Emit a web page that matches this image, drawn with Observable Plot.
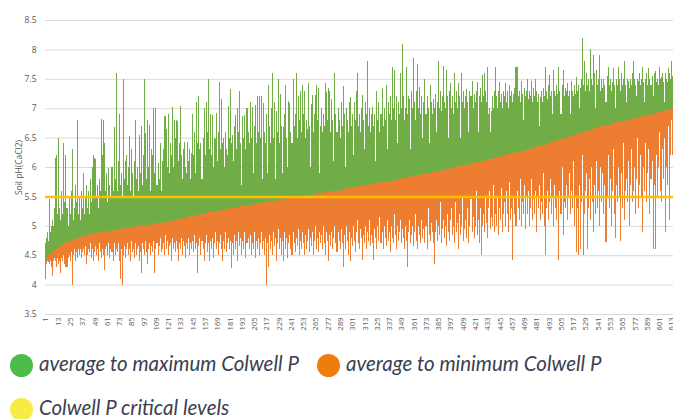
<!DOCTYPE html>
<html>
<head>
<meta charset="utf-8">
<script src="https://cdn.jsdelivr.net/npm/d3@7"></script>
<script src="https://cdn.jsdelivr.net/npm/@observablehq/plot@0.6"></script>
<style>
  html, body { margin: 0; padding: 0; background: #fff; }
  #wrap { position: relative; width: 673px; height: 419px; overflow: hidden; }
  #chart { position: absolute; left: 0; top: 0; }
  .lg-dot { position: absolute; width: 23px; height: 23px; border-radius: 50%; }
  .lg-txt { position: absolute; font-family: Lato, "Open Sans", sans-serif; font-style: italic; font-weight: 400;
            font-size: 20.5px; color: #3b4150; white-space: nowrap; line-height: 23px; }
</style>
</head>
<body>
<div id="wrap">
  <div id="chart"></div>
</div>
<script>
// Average pH per site (sorted ascending)
const avg = [
4.40,4.43,4.45,4.48,4.50,4.52,4.53,4.55,4.56,4.58,
4.59,4.60,4.61,4.63,4.64,4.65,4.66,4.67,4.69,4.70,
4.71,4.72,4.72,4.73,4.74,4.75,4.76,
4.76,4.77,4.78,4.78,4.79,4.80,4.80,4.81,
4.81,4.82,4.82,4.83,4.83,4.84,4.84,4.85,4.85,4.86,
4.86,4.86,4.87,4.87,4.87,4.88,4.88,4.88,4.88,4.89,4.89,4.89,4.90,4.90,4.90,
4.90,4.91,4.91,4.91,4.92,4.92,4.92,4.93,4.93,4.93,4.94,4.94,4.94,4.95,4.95,
4.95,4.95,4.96,4.96,4.96,4.96,4.97,4.97,4.97,4.97,4.98,4.98,4.98,4.98,4.99,4.99,4.99,4.99,
5.00,5.00,5.00,5.01,5.01,5.01,5.01,5.02,5.02,5.02,5.02,5.03,5.03,5.03,5.03,5.04,5.04,
5.04,5.04,5.05,5.05,5.05,5.06,5.06,5.06,5.07,5.07,5.07,5.08,5.08,5.08,5.09,
5.09,5.10,5.10,5.10,5.11,5.11,5.12,5.12,5.12,5.13,5.13,5.14,5.14,5.14,5.15,
5.15,5.16,5.16,5.17,5.17,5.17,5.18,5.18,5.19,5.19,5.19,5.20,
5.20,5.21,5.21,5.21,5.22,5.22,5.22,5.23,5.23,5.23,5.24,5.24,5.24,5.25,5.25,5.25,5.26,5.26,
5.26,5.27,5.27,5.27,5.28,5.28,5.28,5.29,5.29,5.29,5.30,5.30,5.30,5.30,5.31,5.31,5.31,5.32,5.32,5.32,
5.33,5.33,5.33,5.33,5.34,5.34,5.34,5.35,5.35,5.35,5.36,5.36,5.36,5.36,5.37,5.37,5.37,5.38,5.38,5.38,
5.39,5.39,5.39,5.39,5.40,5.40,5.40,5.41,5.41,5.41,5.42,5.42,5.42,5.42,5.43,5.43,5.43,5.44,5.44,5.44,
5.45,5.45,5.45,5.45,5.46,5.46,5.46,5.47,5.47,5.47,5.48,5.48,5.48,5.48,5.49,5.49,5.49,5.50,5.50,5.50,
5.50,5.51,5.51,5.51,5.52,5.52,5.52,5.52,5.53,5.53,5.53,5.53,5.54,5.54,5.54,5.54,5.55,5.55,5.55,5.55,
5.56,5.56,5.56,5.57,5.57,5.57,5.58,5.58,5.58,5.58,5.59,5.59,5.59,5.60,5.60,5.60,5.60,5.61,5.61,5.61,
5.62,5.62,5.62,5.63,5.63,5.63,5.64,5.64,5.64,5.65,
5.65,5.65,5.66,5.66,5.66,5.67,5.67,5.67,5.68,5.68,5.68,5.68,5.69,5.69,5.69,5.70,5.70,5.70,5.71,5.71,
5.71,5.72,5.72,5.72,5.73,5.73,5.73,5.74,5.74,5.74,5.74,5.75,5.75,5.75,5.76,5.76,5.76,5.77,5.77,5.77,
5.78,5.78,5.78,5.79,5.79,5.79,5.80,5.80,5.80,5.81,5.81,5.81,5.82,5.82,5.82,5.83,5.83,5.83,5.84,5.84,
5.84,5.85,5.85,5.85,5.86,5.86,5.86,5.87,5.87,5.88,5.88,5.88,5.89,5.89,5.90,
5.90,5.90,5.91,5.91,5.92,5.92,5.92,5.93,5.93,5.94,5.94,5.94,5.95,5.95,5.96,5.96,5.96,5.97,5.97,5.97,5.98,5.98,5.98,5.99,5.99,
5.99,6.00,6.00,6.01,6.01,6.01,6.02,6.02,6.03,6.03,6.03,6.04,6.04,6.05,6.05,6.05,6.06,6.06,6.07,6.07,
6.07,6.08,6.08,6.09,6.09,6.09,6.10,6.10,6.11,6.11,6.11,6.12,6.12,6.13,6.13,6.13,6.14,6.14,6.15,6.15,
6.15,6.16,6.16,6.17,6.17,6.18,6.18,6.18,6.19,6.19,6.20,6.20,6.21,6.22,
6.22,6.22,6.23,6.23,6.24,6.24,6.25,6.25,6.26,6.26,6.26,6.27,6.27,6.28,6.28,6.29,
6.29,6.30,6.30,6.31,6.31,6.32,6.32,6.33,6.33,6.34,6.34,6.35,6.35,6.36,6.36,6.37,6.37,6.38,6.38,6.39,
6.39,6.40,6.41,6.41,6.42,6.42,6.43,6.43,6.44,6.44,6.45,6.46,6.46,6.47,6.47,6.48,6.48,6.49,6.49,6.50,
6.51,6.51,6.52,6.52,6.53,6.53,6.54,6.55,6.55,6.56,6.56,6.57,6.57,6.58,6.59,6.59,6.60,6.60,6.61,6.61,
6.62,6.62,6.63,6.63,6.64,6.64,6.65,6.66,6.66,6.67,6.67,6.68,6.68,6.69,6.69,6.70,6.70,6.71,6.71,6.71,
6.72,6.72,6.73,6.73,6.74,6.74,6.75,6.75,6.76,6.76,6.76,6.77,6.77,6.78,6.78,6.79,6.79,6.79,6.80,6.80,
6.80,6.81,6.81,6.82,6.82,6.82,6.83,6.83,6.84,6.84,6.84,6.85,6.85,6.85,6.86,6.86,6.87,6.87,6.87,6.88,
6.88,6.89,6.89,6.90,6.90,6.91,6.91,6.92,6.92,6.93,6.93,6.94,6.94,6.95,6.95,6.96,6.96,6.97,6.97,6.98,6.98,6.99,6.99,7.00
];

// Maximum pH per site (top of green bar)
const maxPH = [
4.7,4.8,4.9,4.75,5.45,4.9,5.0,5.1,5.0,5.3,
6.15,6.2,5.2,6.5,5.3,5.1,5.6,5.2,6.4,5.4,
6.2,5.3,5.0,5.5,5.2,5.6,6.3,5.1,5.3,5.7,
5.4,6.8,5.2,5.5,5.1,5.6,5.3,5.9,5.2,5.5,
5.7,5.3,5.6,5.2,5.8,5.4,6.0,6.2,6.15,6.13,
5.5,5.7,5.3,5.8,5.6,6.82,6.2,6.8,6.4,5.6,
5.9,5.4,5.98,5.7,5.5,6.0,5.6,6.68,5.8,7.6,
5.6,6.1,6.9,5.7,5.9,5.5,7.5,5.8,6.1,6.2,
5.7,6.0,6.52,5.6,6.3,5.9,5.5,6.1,6.8,5.8,
6.0,5.6,6.55,5.9,6.7,5.7,6.2,7.5,6.57,5.8,
6.8,6.0,6.72,5.6,6.3,6.2,7.0,5.9,7.0,5.7,
6.07,5.8,6.4,5.6,6.1,6.3,6.86,6.86,6.65,6.0,
6.9,5.9,6.4,6.2,7.02,6.0,6.8,6.5,6.8,6.79,
6.1,6.4,7.03,6.2,5.8,6.3,6.42,6.0,5.9,6.43,
6.1,6.3,5.8,6.23,6.9,6.2,6.6,5.9,7.1,6.4,
7.2,6.3,6.4,5.8,6.5,7.0,6.2,7.1,6.6,7.5,
6.3,6.9,6.2,6.88,6.0,6.5,6.47,6.92,6.1,6.6,
7.45,6.3,7.15,6.4,6.5,6.0,6.6,6.3,6.2,7.03,
6.5,7.32,6.4,6.55,6.1,6.7,6.88,6.3,7.0,6.6,
7.3,6.4,5.7,6.86,6.5,6.88,6.3,7.0,6.6,6.4,
7.1,6.5,7.02,5.9,6.7,7.05,6.4,7.2,6.6,7.2,
6.5,7.2,5.8,7.08,6.6,6.4,6.9,5.9,7.4,6.7,
6.4,7.0,7.6,6.5,7.1,5.8,6.96,6.6,7.5,6.4,
7.25,6.7,5.9,6.68,6.9,7.4,6.5,6.0,7.13,7.08,
6.6,6.4,7.5,6.7,6.9,7.6,6.5,7.2,6.8,7.3,
6.6,7.4,6.9,7.3,6.5,6.8,6.65,7.43,6.7,6.0,
7.07,7.22,6.6,6.9,7.22,7.4,6.8,7.35,5.9,6.7,
7.0,6.6,6.9,6.7,7.43,7.27,6.8,7.35,7.3,6.6,
7.15,6.8,6.1,7.6,6.9,6.6,7.0,6.8,6.5,7.1,
6.7,7.37,6.9,6.0,7.0,6.8,6.6,7.1,7.19,6.7,
6.9,6.2,7.1,6.8,7.3,7.6,6.7,6.9,6.6,7.0,
7.22,6.8,6.3,7.1,6.9,7.8,6.7,7.0,6.6,6.9,
7.02,6.7,6.9,6.1,7.3,6.8,7.1,6.6,6.9,7.35,
6.7,7.0,6.8,7.4,6.3,7.1,6.9,7.2,6.8,7.7,
7.0,7.65,6.8,7.2,6.4,7.1,6.9,7.6,7.0,8.1,
7.2,6.8,7.0,7.7,6.9,7.2,7.15,6.3,7.3,7.0,
7.85,7.1,6.8,7.3,7.75,7.0,7.36,6.9,7.2,6.5,
7.1,7.5,6.9,7.2,7.0,6.4,7.4,7.1,6.9,7.15,
7.0,7.25,6.6,7.1,7.8,7.0,7.3,6.95,7.2,7.72,
7.1,7.0,7.65,7.2,6.5,7.3,7.43,7.0,7.2,6.9,
7.6,7.1,7.3,7.0,7.43,7.2,6.5,7.6,7.1,7.3,
7.0,7.2,7.33,7.1,6.6,7.3,7.2,7.47,7.0,7.25,
7.1,7.3,7.45,6.6,7.2,7.35,7.1,7.56,7.2,7.6,
7.3,7.1,7.7,6.9,7.0,6.6,6.95,7.2,7.0,7.3,
7.7,7.2,7.0,7.3,7.45,7.1,7.25,7.0,7.3,7.2,
7.43,7.1,7.3,7.0,7.4,7.2,7.3,7.1,7.25,7.35,
7.7,7.7,7.2,7.3,7.1,7.47,7.25,6.8,7.35,7.2,
7.3,7.5,7.15,7.3,7.2,7.47,7.1,7.35,7.2,7.5,
7.3,7.1,7.25,6.7,7.19,7.3,7.1,7.35,7.2,7.7,
7.3,7.15,7.4,7.56,7.2,7.3,6.9,7.65,7.3,7.2,
7.4,7.25,7.7,7.3,6.9,7.4,7.65,7.2,7.35,7.3,
7.43,7.2,7.3,6.9,7.47,7.3,7.2,7.4,7.25,7.53,
7.3,7.4,7.0,7.35,7.5,8.2,7.4,7.8,7.3,7.6,
7.4,7.5,7.3,8.0,7.5,7.4,7.9,7.6,7.0,7.65,
7.4,7.5,7.9,7.3,7.5,7.35,7.5,7.4,7.1,7.55,
7.7,7.4,7.5,7.3,7.45,7.68,7.4,7.0,7.5,7.4,
7.7,7.5,7.3,7.6,7.4,7.5,7.8,7.4,7.1,7.5,
7.47,7.35,7.5,7.4,7.6,7.8,7.5,7.4,7.2,7.5,
7.47,7.6,7.4,7.5,7.7,7.45,7.1,7.5,7.6,7.4,
7.68,7.5,7.4,7.55,7.2,7.6,7.63,7.45,7.5,7.4,
7.7,7.5,7.53,7.6,7.45,7.1,7.6,7.5,7.45,7.68,
7.6,7.5,7.8,7.55
];

// Minimum pH per site (bottom of orange bar)
const minPH = [
4.1,4.35,4.4,4.38,4.35,4.4,4.3,4.15,4.4,4.45,
4.4,4.3,4.45,4.35,4.4,4.2,4.45,4.4,4.5,4.35,
4.3,4.3,4.45,4.5,4.4,4.55,4.0,4.5,4.6,4.4,
4.55,4.45,4.6,4.5,4.6,4.45,4.55,4.6,4.5,4.65,
4.35,4.5,4.6,4.55,4.7,4.45,4.6,4.4,4.55,4.65,
4.5,4.6,4.4,4.7,4.55,4.45,4.6,4.5,4.25,4.6,
4.65,4.5,4.7,4.45,4.6,4.55,4.4,4.7,4.5,4.6,
4.55,4.7,4.4,4.1,4.6,4.0,4.5,4.65,4.45,4.6,
4.7,4.5,4.6,4.4,4.75,4.55,4.6,4.45,4.7,4.5,
4.6,4.65,4.4,4.55,4.2,4.7,4.6,4.5,4.75,4.55,
4.35,4.6,4.7,4.5,4.65,4.55,4.75,4.2,4.6,4.7,
4.5,4.65,4.8,4.55,4.6,4.7,4.5,4.85,4.6,4.75,
4.5,4.65,4.7,4.4,4.8,4.6,4.7,4.55,4.75,4.6,
4.4,4.7,4.6,4.8,4.5,4.75,4.65,4.45,4.7,4.6,
4.8,4.5,4.7,4.6,4.75,4.55,4.85,4.6,4.7,4.2,
4.65,4.8,4.5,4.75,4.6,4.4,4.7,4.85,4.55,4.7,
4.4,4.75,4.6,4.8,4.45,4.7,4.9,4.6,4.75,4.5,
4.7,4.85,4.6,4.4,4.75,4.6,4.9,4.55,4.7,4.8,
4.6,4.75,4.28,4.7,4.5,4.85,4.6,4.75,4.4,4.9,
4.65,4.8,4.5,4.75,4.6,4.9,4.45,4.7,4.8,4.6,
4.85,4.5,4.7,4.6,4.9,4.45,4.75,4.6,4.8,4.5,
4.7,4.9,4.6,4.75,4.5,4.8,4.0,4.7,4.3,4.85,
4.6,4.75,4.5,4.9,4.65,4.8,4.4,4.7,4.95,4.6,
4.8,4.5,4.75,4.4,4.9,4.6,4.8,4.45,4.7,4.85,
4.6,4.5,4.9,4.7,4.55,4.8,4.65,4.95,4.5,4.75,
4.6,4.9,4.7,4.5,4.85,4.6,4.75,4.95,4.55,4.8,
4.65,4.9,4.5,4.75,5.0,4.6,4.8,4.55,4.9,4.7,
4.85,4.6,5.0,4.7,4.5,4.9,4.75,4.4,4.85,4.65,
4.9,4.6,4.8,5.0,4.7,4.55,4.9,4.75,4.6,4.95,
4.7,4.3,4.85,4.6,5.0,4.75,4.5,4.9,4.4,4.8,
4.65,5.0,4.75,4.55,4.9,5.1,4.7,4.6,4.95,4.8,
4.42,4.85,4.7,5.0,4.6,4.9,4.75,5.1,4.65,4.85,
4.7,4.42,4.95,4.8,4.6,5.0,4.75,5.15,4.7,4.9,
4.6,5.0,4.8,4.65,5.1,4.75,4.9,4.55,5.0,4.8,
4.7,5.2,4.85,4.6,5.0,4.75,4.9,5.1,4.7,4.95,
4.8,4.6,5.0,4.75,4.3,4.9,5.1,4.7,4.85,5.0,
4.65,4.9,5.2,4.75,4.6,5.0,4.85,4.7,5.1,4.8,
4.95,4.7,5.0,4.6,5.3,4.85,4.75,5.05,4.9,4.7,
4.35,4.9,5.1,4.75,5.0,4.85,5.4,4.7,4.95,5.1,
4.8,5.0,4.65,5.2,4.9,4.75,5.1,5.3,4.85,5.0,
4.7,5.4,4.9,5.05,4.6,5.2,4.85,5.0,5.5,4.75,
4.95,5.1,4.8,5.3,4.7,5.0,5.45,4.9,5.15,4.8,
5.0,5.6,4.85,5.1,4.7,5.3,4.5,5.0,5.2,4.9,
5.5,5.05,4.8,5.3,5.6,4.95,5.15,5.0,5.7,4.9,
5.2,5.0,5.5,4.85,5.3,5.1,5.65,4.9,5.2,5.4,
5.0,5.6,5.2,4.9,5.75,5.1,5.3,4.42,5.5,5.2,
5.0,5.6,5.3,5.1,5.8,5.0,5.4,5.2,5.7,4.95,
5.5,5.2,5.6,5.0,5.3,5.8,5.1,5.45,5.2,5.6,
4.9,5.5,5.3,5.7,5.1,5.4,5.2,5.9,5.0,4.5,
5.3,5.6,5.1,5.4,5.8,5.2,5.5,5.0,5.7,5.3,
5.1,5.5,4.42,5.6,5.2,6.0,4.85,5.4,5.3,5.7,
5.1,5.5,5.9,5.2,5.6,5.3,6.1,5.0,5.5,4.55,
5.3,4.5,5.7,4.6,5.4,6.2,4.5,5.2,5.6,5.9,
4.6,5.3,5.8,5.1,6.0,5.4,4.9,5.7,5.2,6.1,
5.3,5.6,5.0,6.0,5.4,5.9,5.2,5.7,4.73,5.5,
6.2,5.3,5.8,5.0,5.6,6.3,5.2,4.8,5.7,5.4,
6.0,5.5,4.75,5.9,5.3,6.4,5.1,5.6,5.8,5.4,
6.1,5.0,5.7,6.3,5.4,5.6,6.0,5.2,5.8,6.5,
5.3,5.7,6.2,5.5,4.9,6.0,5.6,6.4,5.4,5.9,
6.3,5.2,5.8,6.1,4.6,5.7,4.6,6.2,5.5,6.0,
6.6,5.6,5.4,6.3,5.8,6.5,4.9,6.0,5.7,6.7,
5.1,6.2,6.8,6.2
];

const criticalLevel = [5.5];
const yTicks = [3.5, 4, 4.5, 5, 5.5, 6, 6.5, 7, 7.5, 8, 8.5];
const n = Math.min(avg.length, maxPH.length, minPH.length);
const xTicks = d3.range(1, n + 1, 12);

const rows = d3.range(n).map(i => ({site: i + 1, avg: avg[i], max: maxPH[i], min: minPH[i]}));

const chart = Plot.plot({
  width: 673,
  height: 340,
  marginLeft: 45,
  marginRight: 0,
  marginTop: 20,
  marginBottom: 26,
  style: {fontFamily: "'Open Sans', sans-serif", background: "#fff", overflow: "hidden"},
  x: {type: "band", domain: d3.range(1, n + 1), padding: 0, round: false},
  y: {domain: [3.5, 8.5]},
  marks: [
    Plot.gridY(yTicks, {stroke: "#d9d9d9", strokeOpacity: 1, strokeWidth: 1}),
    Plot.barY(rows, {x: "site", y1: "avg", y2: "max", fill: "#70ad47", shapeRendering: "crispEdges"}),
    Plot.barY(rows, {x: "site", y1: "min", y2: "avg", fill: "#ed7d31", shapeRendering: "crispEdges"}),
    Plot.ruleY(criticalLevel, {stroke: "#ffc000", strokeWidth: 2.5}),
    Plot.axisY(yTicks, {tickSize: 0, tickPadding: 9, fontSize: 8.5, fill: "#595959",
      tickFormat: d => String(d), label: "Soil pH(CaCl2)", labelAnchor: "center", labelOffset: 30, labelArrow: "none"}),
    Plot.axisX(xTicks, {tickSize: 0, tickPadding: 3, tickRotate: -90, fontSize: 7.5, fill: "#595959", label: null})
  ]
});
document.getElementById("chart").appendChild(chart);

// Legend
const legendItems = [
  {label: "average to maximum Colwell P", color: "#4cbb47", x: 10, y: 354},
  {label: "average to minimum Colwell P", color: "#ee7d0f", x: 317, y: 354},
  {label: "Colwell P critical levels", color: "#f8eb45", x: 10, y: 398}
];
const wrap = document.getElementById("wrap");
for (const it of legendItems) {
  const dot = document.createElement("div");
  dot.className = "lg-dot";
  dot.style.left = it.x + "px";
  dot.style.top = it.y + "px";
  dot.style.background = it.color;
  wrap.appendChild(dot);
  const t = document.createElement("div");
  t.className = "lg-txt";
  t.style.left = (it.x + 29) + "px";
  t.style.top = (it.y - 2) + "px";
  t.textContent = it.label;
  wrap.appendChild(t);
}
</script>
</body>
</html>
